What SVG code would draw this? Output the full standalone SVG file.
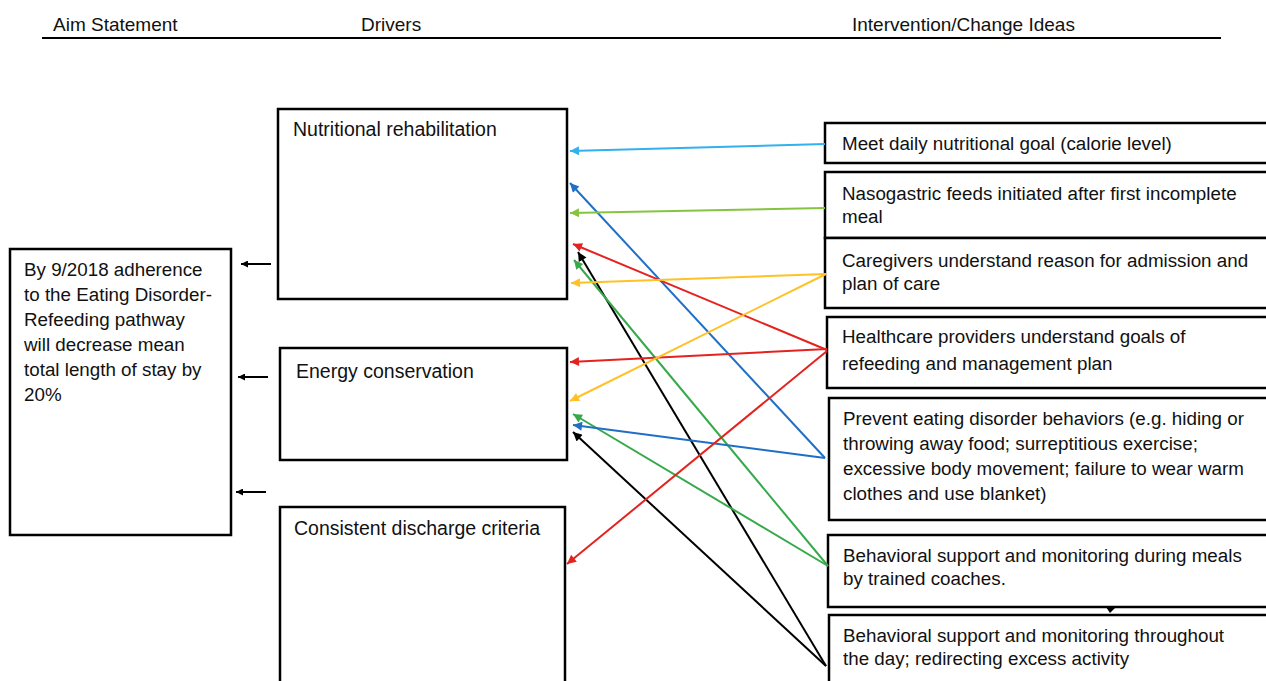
<svg xmlns="http://www.w3.org/2000/svg" width="1266" height="681" viewBox="0 0 1266 681">
<style>
text{font-family:"Liberation Sans",Arial,sans-serif;fill:#111;}
.hd{font-size:19px;}
.tx{font-size:18.8px;}
.dr{font-size:19.5px;}
.box{fill:#fff;stroke:#000;stroke-width:2.5;}
.c{fill:none;stroke-width:2;}
.k{stroke:#000;}
</style>
<defs>
<marker id="mLb" viewBox="0 0 10 10" refX="10" refY="5" markerWidth="11" markerHeight="9" markerUnits="userSpaceOnUse" orient="auto"><path d="M0,0L10,5L0,10z" fill="#33B0EE"/></marker>
<marker id="mB" viewBox="0 0 10 10" refX="10" refY="5" markerWidth="11" markerHeight="9" markerUnits="userSpaceOnUse" orient="auto"><path d="M0,0L10,5L0,10z" fill="#1F6FC6"/></marker>
<marker id="mLg" viewBox="0 0 10 10" refX="10" refY="5" markerWidth="11" markerHeight="9" markerUnits="userSpaceOnUse" orient="auto"><path d="M0,0L10,5L0,10z" fill="#86C440"/></marker>
<marker id="mR" viewBox="0 0 10 10" refX="10" refY="5" markerWidth="11" markerHeight="9" markerUnits="userSpaceOnUse" orient="auto"><path d="M0,0L10,5L0,10z" fill="#E42320"/></marker>
<marker id="mK" viewBox="0 0 10 10" refX="10" refY="5" markerWidth="11" markerHeight="9" markerUnits="userSpaceOnUse" orient="auto"><path d="M0,0L10,5L0,10z" fill="#000"/></marker>
<marker id="mG" viewBox="0 0 10 10" refX="10" refY="5" markerWidth="11" markerHeight="9" markerUnits="userSpaceOnUse" orient="auto"><path d="M0,0L10,5L0,10z" fill="#36A94A"/></marker>
<marker id="mY" viewBox="0 0 10 10" refX="10" refY="5" markerWidth="11" markerHeight="9" markerUnits="userSpaceOnUse" orient="auto"><path d="M0,0L10,5L0,10z" fill="#FFC125"/></marker>
<marker id="mS" viewBox="0 0 10 10" refX="10" refY="5" markerWidth="9" markerHeight="7" markerUnits="userSpaceOnUse" orient="auto"><path d="M0,0L10,5L0,10z" fill="#000"/></marker>
</defs>

<g id="header">
<text class="hd" x="53" y="31">Aim Statement</text>
<text class="hd" x="361" y="31">Drivers</text>
<text class="hd" x="852" y="31">Intervention/Change Ideas</text>
<line x1="42" y1="38" x2="1221" y2="38" stroke="#000" stroke-width="2"/>
</g>

<g id="aim">
<rect class="box" x="10" y="249" width="221" height="286"/>
<text class="tx"><tspan x="24" y="276">By 9/2018 adherence</tspan><tspan x="24" y="301">to the Eating Disorder-</tspan><tspan x="24" y="326">Refeeding pathway</tspan><tspan x="24" y="351">will decrease mean</tspan><tspan x="24" y="376">total length of stay by</tspan><tspan x="24" y="401">20%</tspan></text>
</g>

<g id="driver-nutrition">
<rect class="box" x="278" y="109" width="289" height="190"/>
<text class="dr" x="293" y="136">Nutritional rehabilitation</text>
</g>
<g id="driver-energy">
<rect class="box" x="280" y="348" width="287" height="112"/>
<text class="dr" x="296" y="378">Energy conservation</text>
</g>
<g id="driver-discharge">
<rect class="box" x="280" y="507" width="285" height="190"/>
<text class="dr" x="294" y="535">Consistent discharge criteria</text>
</g>

<g id="idea-calorie">
<rect class="box" x="825" y="123" width="450" height="40"/>
<text class="tx" x="842" y="150">Meet daily nutritional goal (calorie level)</text>
</g>
<g id="idea-nasogastric">
<rect class="box" x="825" y="172" width="450" height="66"/>
<text class="tx"><tspan x="842" y="200">Nasogastric feeds initiated after first incomplete</tspan><tspan x="842" y="223">meal</tspan></text>
</g>
<g id="idea-caregivers">
<rect class="box" x="825" y="238" width="450" height="70"/>
<text class="tx"><tspan x="842" y="267">Caregivers understand reason for admission and</tspan><tspan x="842" y="290">plan of care</tspan></text>
</g>
<g id="idea-providers">
<rect class="box" x="827" y="317" width="450" height="71"/>
<text class="tx"><tspan x="842" y="343">Healthcare providers understand goals of</tspan><tspan x="842" y="370">refeeding and management plan</tspan></text>
</g>
<g id="idea-prevent">
<rect class="box" x="829" y="398" width="450" height="122"/>
<text class="tx"><tspan x="843" y="425">Prevent eating disorder behaviors (e.g. hiding or</tspan><tspan x="843" y="450">throwing away food; surreptitious exercise;</tspan><tspan x="843" y="475">excessive body movement; failure to wear warm</tspan><tspan x="843" y="500">clothes and use blanket)</tspan></text>
</g>
<g id="idea-meals">
<rect class="box" x="828" y="535" width="450" height="72"/>
<text class="tx"><tspan x="843" y="562">Behavioral support and monitoring during meals</tspan><tspan x="843" y="585">by trained coaches.</tspan></text>
</g>
<g id="idea-day">
<rect class="box" x="829" y="615" width="450" height="90"/>
<text class="tx"><tspan x="843" y="642">Behavioral support and monitoring throughout</tspan><tspan x="843" y="665">the day; redirecting excess activity</tspan></text>
</g>

<g id="connectors">
<line class="c k" x1="271" y1="264" x2="241" y2="264" marker-end="url(#mS)" stroke-width="1.6"/>
<line class="c k" x1="268" y1="377" x2="238" y2="377" marker-end="url(#mS)" stroke-width="1.6"/>
<line class="c k" x1="266" y1="492" x2="236" y2="492" marker-end="url(#mS)" stroke-width="1.6"/>

<line class="c" stroke="#33B0EE" x1="825" y1="144" x2="570" y2="151" marker-end="url(#mLb)"/>
<line class="c" stroke="#1F6FC6" x1="825" y1="458" x2="570" y2="183" marker-end="url(#mB)"/>
<line class="c" stroke="#86C440" x1="825" y1="208" x2="570" y2="213" marker-end="url(#mLg)"/>
<line class="c" stroke="#E42320" x1="827" y1="350" x2="573" y2="244" marker-end="url(#mR)"/>
<line class="c" stroke="#000" x1="826" y1="666" x2="578" y2="252" marker-end="url(#mK)"/>
<line class="c" stroke="#36A94A" x1="828" y1="566" x2="574" y2="260" marker-end="url(#mG)"/>
<line class="c" stroke="#FFC125" x1="826" y1="274" x2="571" y2="283" marker-end="url(#mY)"/>
<line class="c" stroke="#E42320" x1="827" y1="349" x2="570" y2="362" marker-end="url(#mR)"/>
<line class="c" stroke="#FFC125" x1="826" y1="274" x2="570" y2="401" marker-end="url(#mY)"/>
<line class="c" stroke="#36A94A" x1="828" y1="566" x2="573" y2="414" marker-end="url(#mG)"/>
<line class="c" stroke="#1F6FC6" x1="825" y1="458" x2="573" y2="425" marker-end="url(#mB)"/>
<line class="c" stroke="#000" x1="826" y1="666" x2="573" y2="432" marker-end="url(#mK)"/>
<line class="c" stroke="#E42320" x1="827" y1="351" x2="567" y2="564" marker-end="url(#mR)"/>
<polygon points="1106,607 1116,607 1110,613" fill="#000"/>
</g>
</svg>
